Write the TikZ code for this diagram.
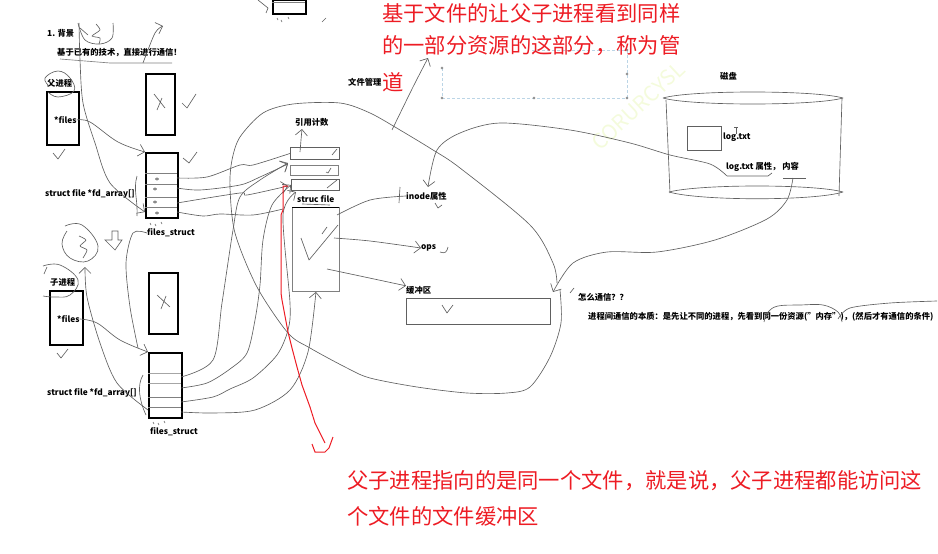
\documentclass[tikz,border=0pt]{standalone}
\usepackage{fontspec}
\setmainfont{Noto Sans CJK SC}
\usetikzlibrary{arrows.meta}
\definecolor{redpen}{HTML}{ED1C24}
\definecolor{pencil}{HTML}{606060}
\definecolor{selblue}{HTML}{BBD5E6}
\definecolor{markgreen}{HTML}{F4FBDC}
\tikzset{
  pen/.style={pencil,line width=.65pt,line join=round},
  arrowpen/.style={pen,-{Straight Barb[length=6pt,width=12pt]}},
  redline/.style={redpen,line width=1pt},
  procbox/.style={draw=black,line width=1.7pt,anchor=north west,inner sep=0pt},
  filebox/.style={draw=pencil,line width=.9pt,anchor=north west,inner sep=0pt},
  note/.style={anchor=west,inner sep=0pt,font=\fontsize{8.3}{10}\selectfont\bfseries},
  rednote/.style={anchor=west,inner sep=0pt,text=redpen,font=\fontsize{21.3}{24}\selectfont},
}
\begin{document}
\begin{tikzpicture}[x=1pt,y=-1pt]
  \useasboundingbox (0,0) rectangle (938,554);
  % watermark and selection frame
  \node[rotate=43,text=markgreen,font=\fontsize{21}{23}\selectfont] (mark) at (638,106) {CORURCYSL};
  \draw[selblue,densely dashed,line width=.8pt] (442,68) -- (442,98) -- (627,98) -- (627,50) -- (532,50);
  \foreach \hx/\hy in {442/68,442/98,534/98,627/98,627/74,627/50}
    \draw[pencil,fill=white,line width=.4pt] (\hx,\hy) circle (1.1pt);
  % left column, parent
  \node[note] (title) at (47,33) {1. 背景};
  \node[note] (basis) at (57,53) {基于已有的技术，直接进行通信！};
  \node[note] (plabel) at (47,83) {父进程};
  \node[procbox,minimum width=32pt,minimum height=53pt] (pproc) at (46,91) {};
  \node[note] (pfiles) at (54,120) {*files};
  \node[procbox,minimum width=29pt,minimum height=61pt] (pcross) at (145,73) {};
  \node[procbox,minimum width=32pt,minimum height=65pt] (ptable) at (145,152) {};
  \foreach \y in {173,184,197,207}
    \draw[gray,line width=.7pt] (145,\y) -- (177,\y);
  \node[note] (parray) at (45,194) {struct file *fd\_array[]};
  \node[note] (pstruct) at (147,233) {files\_struct};
  % left column, child
  \node[note] (clabel) at (50,282) {子进程};
  \node[procbox,minimum width=33pt,minimum height=54pt] (cproc) at (49,290) {};
  \node[note] (cfiles) at (57,319) {*files};
  \node[procbox,minimum width=29pt,minimum height=61pt] (ccross) at (148,272) {};
  \node[procbox,minimum width=33pt,minimum height=65pt] (ctable) at (148,352) {};
  \foreach \y in {373,383}
    \draw[gray!70,line width=.7pt] (148,\y) -- (181,\y);
  \foreach \y in {397,407}
    \draw[gray,line width=.7pt] (148,\y) -- (181,\y);
  \node[note] (carray) at (47,393) {struct file *fd\_array[]};
  \node[note] (cstruct) at (150,432) {files\_struct};
  \node[procbox,minimum width=33pt,minimum height=14pt] (oldtable) at (272,-1) {};
  \draw[gray,line width=.7pt] (272,2) -- (305,2);
  % struct file boxes
  \node[note] (refcount) at (295,122) {引用计数};
  \node[filebox,minimum width=49pt,minimum height=12pt] (ref1) at (290,147) {};
  \node[filebox,draw=gray,minimum width=48pt,minimum height=10pt] (ref2) at (290,165) {};
  \node[filebox,minimum width=48pt,minimum height=11pt] (ref3) at (291,179) {};
  \node[note] (strucfile) at (297,199) {struc file};
  \node[filebox,draw=gray,minimum width=47pt,minimum height=84pt] (filebody) at (292,207) {};
  \draw[black,line width=.8pt] (292,207) -- (339,207);
  \node[note] (inode) at (406,196) {inode属性};
  \node[note] (ops) at (421,248) {ops};
  \node[note] (buflabel) at (406,290) {缓冲区};
  \node[filebox,minimum width=144pt,minimum height=26pt] (bufbox) at (406,298) {};
  \node[note] (fsmgr) at (348,82) {文件管理};
  % disk
  \node[note] (disk) at (720,76) {磁盘};
  \node[filebox,minimum width=34pt,minimum height=24pt] (logbox) at (687,126) {};
  \node[note] (logname) at (723,137) {log.txt};
  \node[note] (logattr) at (726,167) {log.txt 属性， 内容};
  \draw[pen] (663,98) .. controls (690,90) and (815,90) .. (843,98) .. controls (815,106) and (690,106) .. (663,98);
  \draw[pen] (669,192) .. controls (700,184) and (815,184) .. (843,192) .. controls (815,201) and (700,201) .. (669,192);
  \draw[pen] (666,100) -- (670,193);
  \draw[pen] (842,98) -- (839,196);
  \draw[pen] (734,127) -- (738,127) (736,127) -- (736,134);
  % right notes
  \node[note] (how) at (578,297) {怎么通信？？};
  \node[note] (essence) at (588,317) {进程间通信的本质：是先让不同的进程，先看到同一份资源("内存")，(然后才有通信的条件)};
  % red notes
  \node[rednote] (topa) at (382,13) {基于文件的让父子进程看到同样};
  \node[rednote] (topb) at (382,46) {的一部分资源的这部分，称为管};
  \node[rednote] (topc) at (382,82) {道};
  \node[rednote] (bota) at (347,481) {父子进程指向的是同一个文件，就是说，父子进程都能访问这};
  \node[rednote] (botb) at (347,516) {个文件的文件缓冲区};
  % pointers of the parent
  \draw[arrowpen] plot[smooth,tension=.6] coordinates {(pfiles.east) (90,122) (118,142) (ptable.north west)};
  \coordinate (slota) at (177,178);
  \coordinate (slotb) at (177,188);
  \coordinate (slotc) at (177,203);
  \coordinate (slotd) at (177,212);
  \draw[pen] plot[smooth,tension=.5] coordinates {(slota) (207,177) (240,165) (253,165) (ref1.west)};
  \draw[arrowpen] plot[smooth,tension=.5] coordinates {(slotb) (200,190) (240,185) (260,177) (288,164)};
  \draw[arrowpen] plot[smooth,tension=.5] coordinates {(slotc) (240,193) (247,195) (288,186)};
  \draw[pen] plot[smooth,tension=.5] coordinates {(slotd) (203,216) (220,214) (253,215) (283,209)};
  % pointers of the child
  \draw[arrowpen] plot[smooth,tension=.6] coordinates {(cfiles.east) (97,323) (120,340) (ctable.north west)};
  \draw[arrowpen] plot[smooth,tension=.5] coordinates {(181,377) (213,360) (222,303) (233,230) (240,197) (260,180) (288,163)};
  \draw[arrowpen] plot[smooth,tension=.5] coordinates {(181,388) (207,383) (230,369) (247,353) (255,320) (260,285) (263,240) (272,205) (ref3.west)};
  \draw[arrowpen] plot[smooth,tension=.5] coordinates {(181,402) (213,397) (230,389) (253,378) (277,355) (288,330) (290,303) (283,215) (296,192)};
  \draw[arrowpen] plot[smooth,tension=.5] coordinates {(181,412) (213,413) (255,410) (290,390) (308,352) (filebody.south)};
  % file box out to its parts
  \draw[arrowpen] plot[smooth,tension=.5] coordinates {(300,152) (301,140) (302,129)};
  \draw[pen] plot[smooth,tension=.5] coordinates {(337,215) (370,200) (inode.west)};
  \draw[arrowpen] plot[smooth,tension=.5] coordinates {(334,238) (370,241) (ops.west)};
  \draw[arrowpen] plot[smooth,tension=.5] coordinates {(327,269) (360,276) (buflabel.north west)};
  \draw[arrowpen] plot[smooth,tension=.5] coordinates {(392,130) (413,87) (428,58)};
  % loop around the shared file
  \draw[pen] plot[smooth,tension=.5] coordinates {(557,283) (553,263) (530,225) (460,168) (433,150) (400,130) (370,113) (340,103) (293,104) (263,113) (240,137) (232,160) (230,187) (235,233) (257,287) (288,333) (310,348) (347,368) (370,378) (417,387) (467,393) (507,393) (530,387) (550,357) (561,323) (560,290)};
  % from the disk back to the middle
  \draw[arrowpen] plot[smooth,tension=.5] coordinates {(727,176) (710,164) (670,155) (630,143) (570,130) (500,123) (460,133) (437,150) (428,187)};
  \draw[pen] (727,176) -- (768,176) -- (772,173);
  \draw[pen] (783,178) -- (806,178);
  \draw[arrowpen] plot[smooth,tension=.5] coordinates {(793,178) (787,200) (767,219) (715,240) (657,252) (607,252) (573,263) (553,292)};
  % the long strokes on the left
  \draw[arrowpen] plot[smooth,tension=.5] coordinates {(79,23) (80,60) (83,103) (95,143) (110,183) (ptable.west |- 0,212)};
  \draw[arrowpen] plot[smooth,tension=.5] coordinates {(143,63) (155,33) (163,26)};
  \draw[pen,gray] (60,59) -- (110,63) -- (172,63);
  \draw[arrowpen] plot[smooth,tension=.5] coordinates {(ctable.west |- 0,410) (117,383) (100,343) (87,297) (85,267)};
  \draw[pen] plot[smooth,tension=.5] coordinates {(pstruct.west) (133,233) (126,263) (130,307) (138,348)};
  % scribbled rings and digits
  \draw[pen] plot[smooth,tension=.6] coordinates {(78,23) (85,40) (100,44) (112,38) (113,23)};
  \draw[pen] plot[smooth,tension=.3] coordinates {(80,28) (88,35)};
  \draw[pen] plot[smooth,tension=.4] coordinates {(96,24) (100,30) (92,36) (100,38) (99,44)};
  \draw[pen] plot[smooth,tension=.7] coordinates {(65,226) (82,225) (98,246) (88,261) (70,258) (62,244) (67,231)};
  \draw[pen] plot[smooth,tension=.4] coordinates {(79,236) (86,240) (80,246) (87,250) (83,258)};
  \draw[pen] plot[smooth,tension=.7] coordinates {(49,86) (45,78) (58,71) (70,78) (74,91) (58,97) (48,92)};
  \draw[pen] plot[smooth,tension=.7] coordinates {(43,266) (60,265) (78,280) (70,295) (55,297) (43,296)};
  \draw[pen] (47,267) -- (44,274);
  \draw[pen,line join=miter] (112,240) -- (112,231) -- (118,231) -- (118,240) -- (122,240) -- (115,250) -- (105,240) -- (112,240);
  % check marks and crosses
  \draw[pen] (53,153) -- (58,159) -- (65,149);
  \draw[pen] (57,353) -- (61,358) -- (68,349);
  \draw[pen] (182,103) -- (187,108) -- (196,94);
  \draw[pen] (183,158) -- (189,163) -- (197,152);
  \draw[pen] (154,94) -- (165,108) (162,98) -- (157,110);
  \draw[pen] (157,295) -- (170,307) (166,296) -- (161,309);
  \draw[pen] (332,155) -- (337,149);
  \draw[pen] (326,172) -- (328,173) -- (331,168);
  \draw[pen] (327,188) -- (337,180);
  \draw[pen] (301,238) -- (309,260) -- (338,225);
  \draw[pen] (322,234) -- (327,227);
  \draw[pen] (435,203) -- (438,208) -- (442,205);
  \draw[pen] (440,252) .. controls (445,254) and (447,252) .. (448,247);
  \draw[pen] (442,305) -- (447,313) -- (453,305);
  \draw[pen] (570,293) -- (574,288);
  \draw[pen] (400,187) -- (399,203);
  \draw[pen] (302,204) -- (330,205);
  % row marks in the tables
  \foreach \rx/\ry in {157/179,155/189,155/202,157/213}
    \draw[pen] (\rx,\ry) ellipse (1.6pt and 1.2pt);
  \foreach \rx/\ry in {150/223,155/224,161/222,153/422,158/423,164/421,277/18,281/20,288/17}
    \draw[pen] (\rx,\ry) -- +(1,2);
  \draw[pen] (137,176) .. controls (133,190) and (138,200) .. (137,216);
  \draw[pen] (143,375) .. controls (137,385) and (139,400) .. (146,415);
  \draw[pen] (322,22) -- (326,18);
  \draw[pen] (258,0) -- (268,8) -- (266,13);
  % scribble over the essence line
  \draw[pen] plot[smooth,tension=.6] coordinates {(764,322) (768,312) (778,306) (800,305) (823,305) (838,312) (842,322)};
  \draw[pen] plot[smooth,tension=.5] coordinates {(838,319) (850,308) (890,303) (937,301)};
  % red stroke down to the file
  \draw[redline] (288,186) -- (283,186) -- (283,210) -- (281,215) -- (281,293) -- (282,300) -- (288,332) -- (292,348) -- (297,367) -- (302,385) -- (310,407) -- (315,423) -- (320,433) -- (325,443);
  \draw[redline] (312,444) -- (315,452) -- (325,452) -- (329,448) -- (333,437);
\end{tikzpicture}
\end{document}
